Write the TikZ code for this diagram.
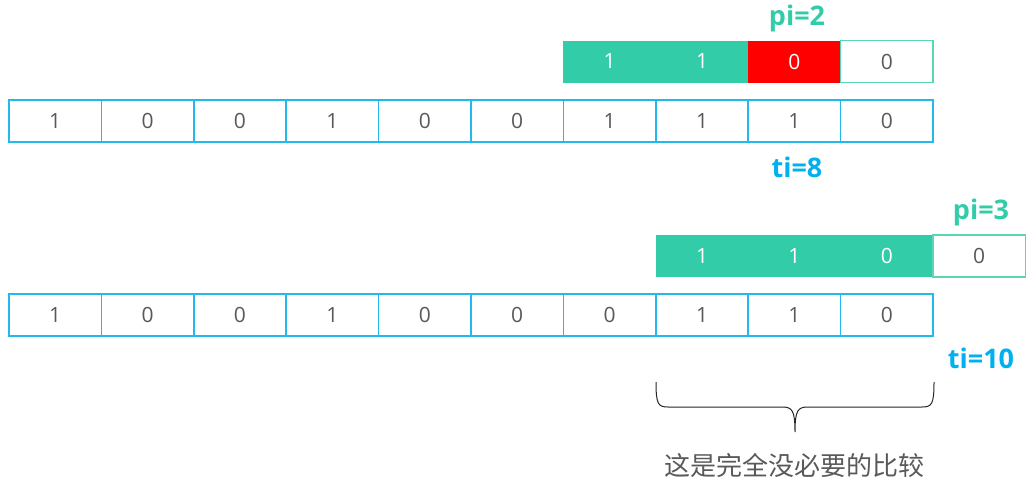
\documentclass[tikz,border=0pt]{standalone}
\usepackage{fontspec}
\setmainfont{Open Sans}
\newfontfamily\cjk{Noto Sans CJK SC}
\definecolor{teal1}{RGB}{51,204,168}
\definecolor{tealline}{RGB}{90,214,180}
\definecolor{blue1}{RGB}{35,185,236}
\definecolor{tiblue}{RGB}{0,176,240}
\definecolor{gray1}{RGB}{89,89,89}
\begin{document}
\begin{tikzpicture}[x=1pt,y=-1pt,
  cell/.style={draw=blue1,line width=1.6pt,minimum width=92.4pt,minimum height=42pt,inner sep=0pt,outer sep=0pt,font=\fontsize{21}{25}\selectfont,text=gray1,anchor=center},
  pfill/.style={fill=teal1,draw=none,minimum width=92.4pt,minimum height=42pt,inner sep=0pt,outer sep=0pt,font=\fontsize{21}{25}\selectfont,text=white},
  pred/.style={pfill,fill=red},
  pempty/.style={draw=tealline,line width=1.6pt,minimum width=92.4pt,minimum height=42pt,inner sep=0pt,outer sep=0pt,font=\fontsize{21}{25}\selectfont,text=gray1},
  lbl/.style={font=\fontsize{27}{31}\selectfont\bfseries,inner sep=0pt}
]
\useasboundingbox (0,0) rectangle (1035,482);
% text row 1
\foreach \v [count=\i from 0] in {1,0,0,1,0,0,1,1,1,0}
  \node[cell] (ta\i) at ({9+92.4*(\i+0.5)},121) {\v};
% pattern row 1
\node[pfill] (pa0) at ({9+92.4*6.5},61.5) {1};
\node[pfill] (pa1) at ({9+92.4*7.5},61.5) {1};
\node[pred]  (pa2) at ({9+92.4*8.5},61.5) {0};
\node[pempty] (pa3) at ({9+92.4*9.5},61.5) {0};
\node[lbl,text=teal1] (pilab1) at (797,18) {pi=2};
\node[lbl,text=tiblue] (tilab1) at (797,167) {ti=8};
% text row 2
\foreach \v [count=\i from 0] in {1,0,0,1,0,0,0,1,1,0}
  \node[cell] (tb\i) at ({9+92.4*(\i+0.5)},315) {\v};
% pattern row 2
\node[pfill] (pb0) at ({9+92.4*7.5},256) {1};
\node[pfill] (pb1) at ({9+92.4*8.5},256) {1};
\node[pfill] (pb2) at ({9+92.4*9.5},256) {0};
\node[pempty] (pb3) at ({9+92.4*10.5},256) {0};
\node[lbl,text=teal1] (pilab2) at (981,212) {pi=3};
\node[lbl,text=tiblue] (tilab2) at (981,358) {ti=10};
% brace
\coordinate (bl) at (656,382);
\coordinate (br) at (934,382);
\coordinate (bt) at (795,432);
\draw[line width=1pt,black!85] (bl) .. controls (656,404) and (658,407) .. (668,407)
  -- (782,407) .. controls (792,407) and (795,410) .. (bt)
  .. controls (795,410) and (798,407) .. (808,407)
  -- (922,407) .. controls (932,407) and (934,404) .. (br);
\node[font=\cjk\fontsize{26}{30}\selectfont,text=gray1] (note) at (794,465) {这是完全没必要的比较};
\end{tikzpicture}
\end{document}
